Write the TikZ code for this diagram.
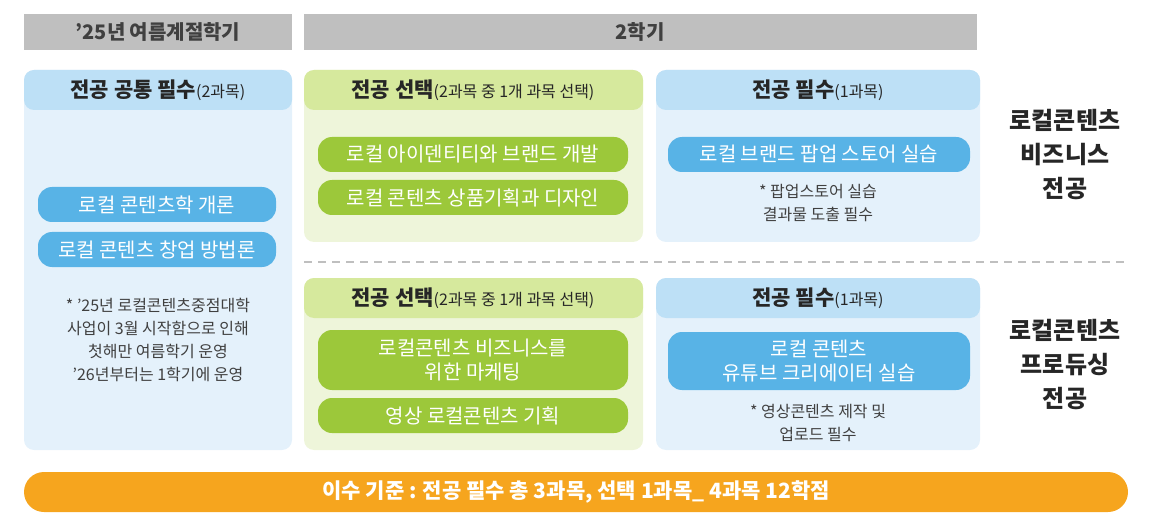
\documentclass[tikz,border=0pt]{standalone}
\usepackage{fontspec}
\setmainfont{Noto Sans CJK KR}
\newcommand\subtxt{\fontsize{16}{19}\selectfont\mdseries}
\definecolor{hdrgray}{HTML}{BFBFBF}
\definecolor{txtgray}{HTML}{404040}
\definecolor{bluebg}{HTML}{E4F1FB}
\definecolor{bluehd}{HTML}{BDE0F6}
\definecolor{bluepill}{HTML}{58B3E6}
\definecolor{greenbg}{HTML}{EEF5DA}
\definecolor{greenhd}{HTML}{D6E99D}
\definecolor{greenpill}{HTML}{9CC83A}
\definecolor{orangebar}{HTML}{F6A51E}
\tikzset{
  hdr/.style={text=txtgray, font=\fontsize{20}{23}\selectfont\bfseries},
  panel/.style={rounded corners=10pt},
  pillbox/.style={rounded corners=14pt},
  pill/.style={text=white, align=center, font=\fontsize{20}{24}\selectfont},
  note/.style={text=txtgray, align=center, font=\fontsize{16}{23}\selectfont},
  ttl/.style={text=black!85, font=\fontsize{21}{24}\selectfont\bfseries},
  track/.style={text=black!85, align=center, font=\fontsize{24}{34}\selectfont\bfseries}
}
\begin{document}
\begin{tikzpicture}[x=1pt,y=-1pt]
  \useasboundingbox (0,0) rectangle (1158,529);

  % headers
  \fill[hdrgray] (24,14) rectangle (292,50);
  \node[hdr] (hsum) at (158,32) {'25년 여름계절학기};
  \fill[hdrgray] (304,14) rectangle (977,50);
  \node[hdr] (hsem) at (640,32) {2학기};

  % left panel
  \fill[bluebg, panel] (24,70) rectangle (292,450);
  \fill[bluehd, panel] (24,70) rectangle (292,110);
  \node[ttl] (tcom) at (158,90) {전공 공통 필수{\subtxt(2과목)}};
  \fill[bluepill, pillbox] (38,187) rectangle (276,222);
  \node[pill] (pintro) at (157,204.5) {로컬 콘텐츠학 개론};
  \fill[bluepill, pillbox] (38,232) rectangle (276,267);
  \node[pill] (pstart) at (157,249.5) {로컬 콘텐츠 창업 방법론};
  \node[note] (ncom) at (158,340) {* '25년 로컬콘텐츠중점대학\\사업이 3월 시작함으로 인해\\첫해만 여름학기 운영\\'26년부터는 1학기에 운영};

  % upper row
  \fill[greenbg, panel] (304,70) rectangle (643,242);
  \fill[greenhd, panel] (304,70) rectangle (643,110);
  \node[ttl] (tsel1) at (473,90) {전공 선택{\subtxt(2과목 중 1개 과목 선택)}};
  \fill[greenpill, pillbox] (318,137) rectangle (628,172);
  \node[pill] (pbrand) at (473,154.5) {로컬 아이덴티티와 브랜드 개발};
  \fill[greenpill, pillbox] (318,180) rectangle (628,215);
  \node[pill] (pgoods) at (473,197.5) {로컬 콘텐츠 상품기획과 디자인};

  \fill[bluebg, panel] (656,70) rectangle (980,242);
  \fill[bluehd, panel] (656,70) rectangle (980,110);
  \node[ttl] (treq1) at (818,90) {전공 필수{\subtxt(1과목)}};
  \fill[bluepill, pillbox] (668,137) rectangle (970,172);
  \node[pill] (ppopup) at (819,154.5) {로컬 브랜드 팝업 스토어 실습};
  \node[note] (nreq1) at (818,203) {* 팝업스토어 실습\\결과물 도출 필수};

  \draw[hdrgray, line width=2pt, dash pattern=on 8pt off 6pt] (304,262) -- (1128,262);

  % lower row
  \fill[greenbg, panel] (304,278) rectangle (643,450);
  \fill[greenhd, panel] (304,278) rectangle (643,318);
  \node[ttl] (tsel2) at (473,298) {전공 선택{\subtxt(2과목 중 1개 과목 선택)}};
  \fill[greenpill, pillbox] (318,330) rectangle (628,390);
  \node[pill] (pmkt) at (473,360) {로컬콘텐츠 비즈니스를\\위한 마케팅};
  \fill[greenpill, pillbox] (318,398) rectangle (628,433);
  \node[pill] (pvideo) at (473,415.5) {영상 로컬콘텐츠 기획};

  \fill[bluebg, panel] (656,278) rectangle (980,450);
  \fill[bluehd, panel] (656,278) rectangle (980,318);
  \node[ttl] (treq2) at (818,298) {전공 필수{\subtxt(1과목)}};
  \fill[bluepill, pillbox] (668,332) rectangle (970,390);
  \node[pill] (ptube) at (819,361) {로컬 콘텐츠\\유튜브 크리에이터 실습};
  \node[note] (nreq2) at (818,423) {* 영상콘텐츠 제작 및\\업로드 필수};

  % tracks
  \node[track] (kbiz) at (1065,155) {로컬콘텐츠\\비즈니스\\전공};
  \node[track] (kprod) at (1065,365) {로컬콘텐츠\\프로듀싱\\전공};

  % bottom bar
  \fill[orangebar, rounded corners=20pt] (24,472) rectangle (1128,512);
  \node[text=white, font=\fontsize{21}{24}\selectfont\bfseries] (total) at (576,492)
    {이수 기준 : 전공 필수 총 3과목, 선택 1과목\_ 4과목 12학점};
\end{tikzpicture}
\end{document}
